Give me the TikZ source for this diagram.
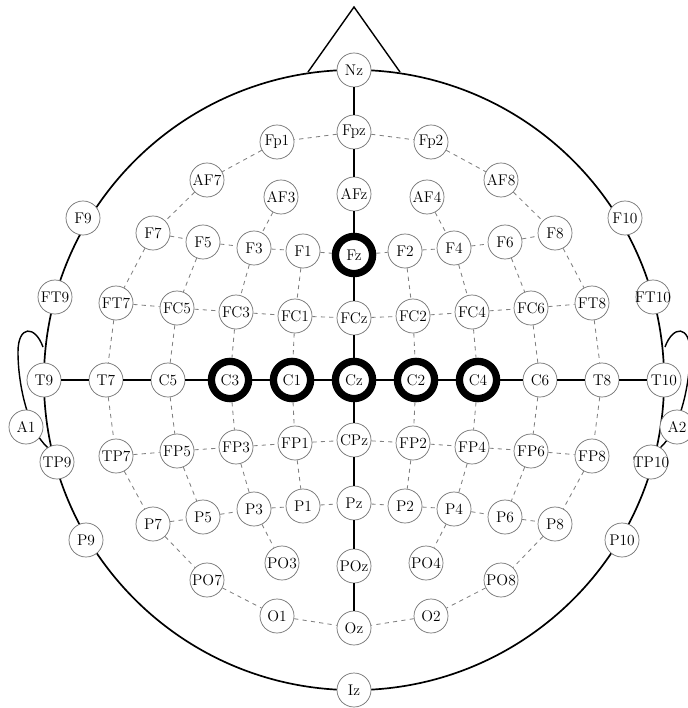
\documentclass[tikz,border=0pt]{standalone}
\usepackage{tikz}

\begin{document}
\begin{tikzpicture}[x=0.025cm, y=-0.025cm,
			 electrodo/.style={circle, draw=black!55, line width=0.5pt, fill=white, minimum size=0.85cm, inner sep=-2pt, font=\fontsize{11}{13}\selectfont},
			 activo/.style={electrodo, draw=black, line width=5.2pt, minimum size=0.93cm},
			 linea/.style={black, line width=0.9pt},
			 punteada/.style={black!50, dashed, line width=0.6pt}
  		]

	\useasboundingbox (0,0) rectangle (687,708);

	%Cabeza, nariz y orejas
		\draw[line width=1.2pt] (354,380) circle (7.75cm);
		\draw[line width=1pt] (308,72) -- (354,7) -- (400,72);
		\draw[line width=1pt] (43,347) .. controls (35,325) and (18,325) .. (18,352) .. controls (18,385) and (28,430) .. (48,448);
		\draw[line width=1pt] (665,347) .. controls (673,325) and (690,325) .. (690,352) .. controls (690,385) and (680,430) .. (660,448);

	%Electrodos de la linea media
		\node[electrodo] (Nz) at (354,70) {Nz};
		\node[electrodo] (Fpz) at (354,132) {Fpz};
		\node[electrodo] (AFz) at (354,194) {AFz};
		\node[activo] (Fz) at (354,255) {Fz};
		\node[electrodo] (FCz) at (354,318) {FCz};
		\node[activo] (Cz) at (354,380) {Cz};
		\node[electrodo] (CPz) at (354,440) {CPz};
		\node[electrodo] (Pz) at (354,503) {Pz};
		\node[electrodo] (POz) at (354,566) {POz};
		\node[electrodo] (Oz) at (354,628) {Oz};
		\node[electrodo] (Iz) at (354,690) {Iz};
	%Electrodos frontales
		\node[electrodo] (Fp1) at (277,142) {Fp1};
		\node[electrodo] (Fp2) at (431,142) {Fp2};
		\node[electrodo] (AF7) at (207,180) {AF7};
		\node[electrodo] (AF8) at (501,180) {AF8};
		\node[electrodo] (AF3) at (281,197) {AF3};
		\node[electrodo] (AF4) at (427,197) {AF4};
		\node[electrodo] (F9) at (83,218) {F9};
		\node[electrodo] (F10) at (625,218) {F10};
		\node[electrodo] (F7) at (153,233) {F7};
		\node[electrodo] (F5) at (203,242) {F5};
		\node[electrodo] (F3) at (254,248) {F3};
		\node[electrodo] (F1) at (303,251) {F1};
		\node[electrodo] (F2) at (405,251) {F2};
		\node[electrodo] (F4) at (454,248) {F4};
		\node[electrodo] (F6) at (505,242) {F6};
		\node[electrodo] (F8) at (555,233) {F8};
	%Electrodos fronto-centrales
		\node[electrodo] (FT9) at (55,297) {FT9};
		\node[electrodo] (FT10) at (653,297) {FT10};
		\node[electrodo] (FT7) at (116,303) {FT7};
		\node[electrodo] (FC5) at (177,308) {FC5};
		\node[electrodo] (FC3) at (236,312) {FC3};
		\node[electrodo] (FC1) at (295,316) {FC1};
		\node[electrodo] (FC2) at (413,316) {FC2};
		\node[electrodo] (FC4) at (472,312) {FC4};
		\node[electrodo] (FC6) at (531,308) {FC6};
		\node[electrodo] (FT8) at (592,303) {FT8};
	%Electrodos centrales y temporales
		\node[electrodo] (T9) at (44,380) {T9};
		\node[electrodo] (T7) at (106,380) {T7};
		\node[electrodo] (C5) at (168,380) {C5};
		\node[activo] (C3) at (230,380) {C3};
		\node[activo] (C1) at (292,380) {C1};
		\node[activo] (C2) at (416,380) {C2};
		\node[activo] (C4) at (478,380) {C4};
		\node[electrodo] (C6) at (540,380) {C6};
		\node[electrodo] (T8) at (602,380) {T8};
		\node[electrodo] (T10) at (664,380) {T10};
		\node[electrodo] (A1) at (26,427) {A1};
		\node[electrodo] (A2) at (677,427) {A2};
	%Electrodos centro-parietales
		\node[electrodo] (TP9) at (57,462) {TP9};
		\node[electrodo] (TP10) at (651,462) {TP10};
		\node[electrodo] (TP7) at (116,456) {TP7};
		\node[electrodo] (CP5) at (177,451) {FP5};
		\node[electrodo] (CP3) at (236,447) {FP3};
		\node[electrodo] (CP1) at (295,443) {FP1};
		\node[electrodo] (CP2) at (413,443) {FP2};
		\node[electrodo] (CP4) at (472,447) {FP4};
		\node[electrodo] (CP6) at (531,451) {FP6};
		\node[electrodo] (TP8) at (592,456) {FP8};
	%Electrodos parietales y occipitales
		\node[electrodo] (P9) at (86,540) {P9};
		\node[electrodo] (P10) at (622,540) {P10};
		\node[electrodo] (P7) at (153,524) {P7};
		\node[electrodo] (P5) at (203,517) {P5};
		\node[electrodo] (P3) at (254,509) {P3};
		\node[electrodo] (P1) at (303,506) {P1};
		\node[electrodo] (P2) at (405,506) {P2};
		\node[electrodo] (P4) at (454,509) {P4};
		\node[electrodo] (P6) at (505,517) {P6};
		\node[electrodo] (P8) at (555,524) {P8};
		\node[electrodo] (PO7) at (207,580) {PO7};
		\node[electrodo] (PO3) at (282,563) {PO3};
		\node[electrodo] (PO4) at (426,563) {PO4};
		\node[electrodo] (PO8) at (501,580) {PO8};
		\node[electrodo] (O1) at (277,616) {O1};
		\node[electrodo] (O2) at (431,616) {O2};

	%Lineas continuas
		\draw[linea] (Nz) -- (Fpz) -- (AFz) -- (Fz) -- (FCz) -- (Cz) -- (CPz) -- (Pz) -- (POz) -- (Oz);
		\draw[linea] (T9) -- (T7) -- (C5) -- (C3) -- (C1) -- (Cz) -- (C2) -- (C4) -- (C6) -- (T8) -- (T10);
	%Anillo exterior punteado
		\draw[punteada] (Fpz) -- (Fp1) -- (AF7) -- (F7) -- (FT7) -- (T7) -- (TP7) -- (P7) -- (PO7) -- (O1) -- (Oz);
		\draw[punteada] (Fpz) -- (Fp2) -- (AF8) -- (F8) -- (FT8) -- (T8) -- (TP8) -- (P8) -- (PO8) -- (O2) -- (Oz);
	%Filas punteadas
		\draw[punteada] (F7) -- (F5) -- (F3) -- (F1) -- (Fz) -- (F2) -- (F4) -- (F6) -- (F8);
		\draw[punteada] (FT7) -- (FC5) -- (FC3) -- (FC1) -- (FCz) -- (FC2) -- (FC4) -- (FC6) -- (FT8);
		\draw[punteada] (TP7) -- (CP5) -- (CP3) -- (CP1) -- (CPz) -- (CP2) -- (CP4) -- (CP6) -- (TP8);
		\draw[punteada] (P7) -- (P5) -- (P3) -- (P1) -- (Pz) -- (P2) -- (P4) -- (P6) -- (P8);
	%Columnas punteadas
		\draw[punteada] (F5) -- (FC5) -- (C5) -- (CP5) -- (P5);
		\draw[punteada] (AF3) -- (F3) -- (FC3) -- (C3) -- (CP3) -- (P3) -- (PO3);
		\draw[punteada] (F1) -- (FC1) -- (C1) -- (CP1) -- (P1);
		\draw[punteada] (F2) -- (FC2) -- (C2) -- (CP2) -- (P2);
		\draw[punteada] (AF4) -- (F4) -- (FC4) -- (C4) -- (CP4) -- (P4) -- (PO4);
		\draw[punteada] (F6) -- (FC6) -- (C6) -- (CP6) -- (P6);
	\end{tikzpicture}
\end{document}
